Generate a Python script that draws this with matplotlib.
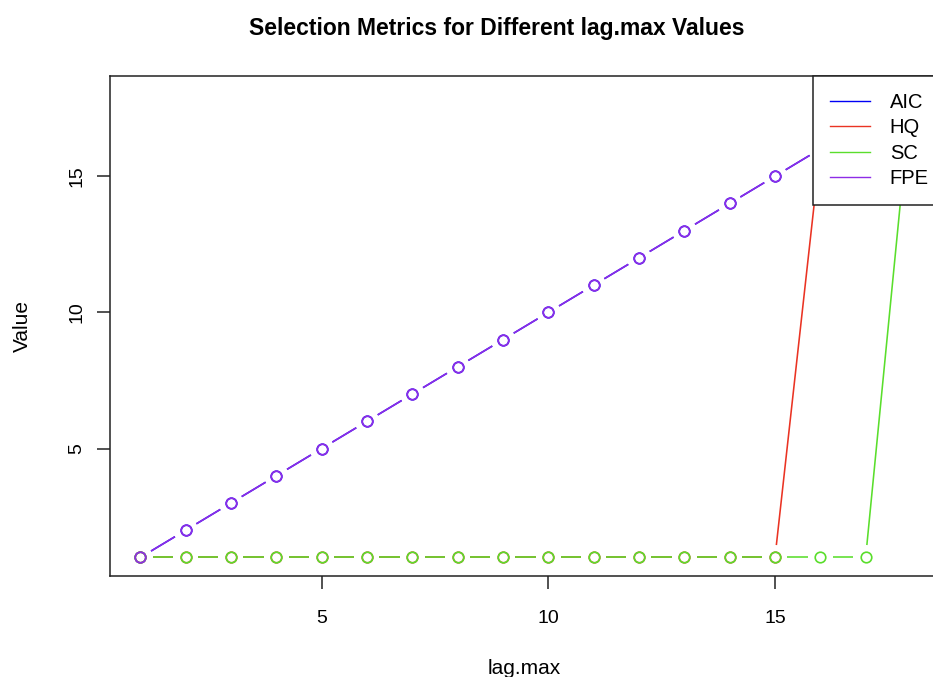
import numpy as np
import matplotlib
matplotlib.use("Agg")
import matplotlib.pyplot as plt
from matplotlib.collections import LineCollection
from matplotlib.lines import Line2D

# selected lag order for each lag.max value
lag_max = [1, 2, 3, 4, 5, 6, 7, 8, 9, 10, 11, 12, 13, 14, 15, 16, 17, 18]
aic = [1, 2, 3, 4, 5, 6, 7, 8, 9, 10, 11, 12, 13, 14, 15, 16, 17, 18]
hq = [1, 1, 1, 1, 1, 1, 1, 1, 1, 1, 1, 1, 1, 1, 1, 16, 17, 18]
sc = [1, 1, 1, 1, 1, 1, 1, 1, 1, 1, 1, 1, 1, 1, 1, 1, 1, 18]
fpe = [1, 2, 3, 4, 5, 6, 7, 8, 9, 10, 11, 12, 13, 14, 15, 16, 17, 18]

labels = ["AIC", "HQ", "SC", "FPE"]
colors = ["#0000f5", "#ea3323", "#5ade2c", "#8e2ce6"]

plt.rcParams["font.family"] = ["Liberation Sans", "DejaVu Sans"]

W, H = 933, 677
fig = plt.figure(figsize=(W / 100, H / 100), dpi=100)
# plot region runs past the right edge, like the cropped original
ax = fig.add_axes([109.5 / W, 1 - 576 / H, (941.8 - 109.5) / W, 500 / H])
ax.set_xlim(0.32, 18.68)
ax.set_ylim(0.32, 18.68)
AW = 941.8 - 109.5


def gapped_segments(ax, x, y, gap=12.5):
    # R type="b": segments stop short of each point
    pts = ax.transData.transform(np.column_stack([x, y]))
    inv = ax.transData.inverted()
    segs = []
    for p0, p1 in zip(pts[:-1], pts[1:]):
        d = p1 - p0
        length = np.hypot(*d)
        if length <= 2 * gap:
            continue
        u = d / length
        segs.append(inv.transform([p0 + u * gap, p1 - u * gap]))
    return segs


for i, (vals, col) in enumerate(zip([aic, hq, sc, fpe], colors)):
    lc = LineCollection(gapped_segments(ax, lag_max, vals), colors=col,
                        linewidths=1.15, zorder=2 + i)
    ax.add_collection(lc)
    ax.plot(lag_max, vals, "o", mfc="none", mec=col, ms=7.6, mew=1.2,
            zorder=2 + i)

for spine in ax.spines.values():
    spine.set_linewidth(1.1)
    spine.set_color("#222222")

ax.set_xticks([5, 10, 15])
ax.set_yticks([5, 10, 15])
ax.tick_params(length=9.4, width=1.1, color="#222222", labelsize=14)
ax.tick_params(axis="x", pad=15)
ax.tick_params(axis="y", pad=8)
for lab in ax.get_yticklabels():
    lab.set_rotation(90)
    lab.set_va("center")

ax.set_xlabel("lag.max", fontsize=15)
ax.xaxis.set_label_coords((524 - 109.5) / AW, -83 / 500)
ax.set_ylabel("Value", fontsize=15)
ax.yaxis.set_label_coords(-(109.5 - 32) / AW, 0.5)

handles = [Line2D([], [], color=c, lw=1.0) for c in colors]
leg = ax.legend(handles, labels, loc="upper right",
                bbox_to_anchor=(1 + 4 / AW, 1),
                borderaxespad=0, fancybox=False, framealpha=1,
                edgecolor="#222222", fontsize=14.5, handlelength=1.95,
                handletextpad=1.0, labelspacing=0.31, borderpad=0.85)
leg.get_frame().set_linewidth(1.1)
leg.set_zorder(10)

fig.text(496.5 / W, 1 - 35 / H, "Selection Metrics for Different lag.max Values",
         ha="center", va="baseline", fontsize=16.5, fontweight="bold")

fig.savefig("out.png", dpi=100)
